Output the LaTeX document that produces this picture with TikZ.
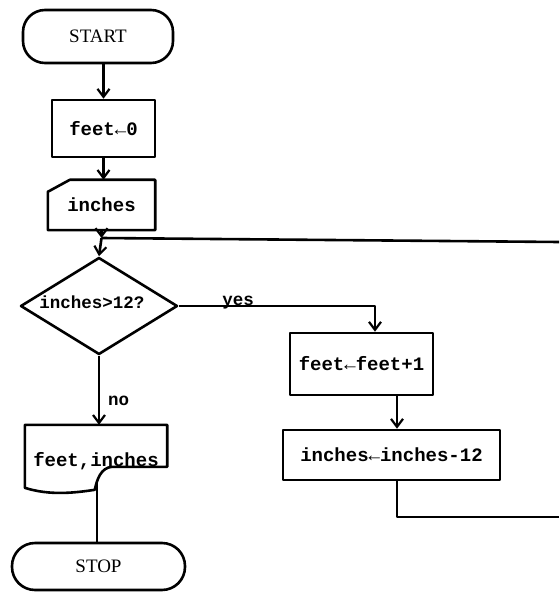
\documentclass[tikz,border=0pt]{standalone}
\usepackage{fontspec}
\setmainfont{Liberation Serif}
\newfontfamily\flowmono{Liberation Mono}
\usetikzlibrary{arrows.meta,shapes.geometric,calc}
\begin{document}
\begin{tikzpicture}[x=1pt,y=-1pt,
 ln/.style={line width=2.6pt,line join=round},
 arr/.style={ln,-{Straight Barb[length=8pt,width=12pt,line width=2.2pt]}},
 term/.style={ln,draw,rounded corners=22pt,font=\fontsize{19}{22}\selectfont,inner sep=0pt},
 proc/.style={ln,draw,font=\flowmono\bfseries\fontsize{19}{22}\selectfont,inner sep=0pt},
 txt/.style={font=\flowmono\bfseries\fontsize{19}{22}\selectfont,inner sep=0pt},
 lbl/.style={font=\flowmono\bfseries\fontsize{17.5}{21}\selectfont,inner sep=0pt}]
\useasboundingbox (0,0) rectangle (559,601);
\fill[white] (0,0) rectangle (559,601);

\node[term,minimum width=150pt,minimum height=53pt] (start) at (98,36.5) {START};
\node[proc,minimum width=103pt,minimum height=57pt] (f0) at (103.5,128.5) {feet←0};
\node[txt,minimum width=107pt,minimum height=50pt] (in) at (101.5,205) {inches};
\draw[ln] (in.south east) -- (in.north east) -- ([xshift=22pt]in.north west) -- ([yshift=-12pt]in.north west) -- (in.south west) -- cycle;

\coordinate (join) at (101.5,238);
\node[diamond,ln,draw,aspect=1.6,minimum width=157pt,minimum height=97pt,inner sep=0pt] (dia) at (99,306) {};
\node[lbl] (diat) at (92,302) {inches>12?};

\node[proc,minimum width=143pt,minimum height=62pt] (f1) at (361.5,364) {feet←feet+1};
\node[proc,minimum width=217pt,minimum height=50pt] (i12) at (391.5,455) {inches←inches-12};

\node[txt,minimum width=142pt,minimum height=72pt,text depth=0pt] (out) at (96,461) {\raisebox{3pt}{feet,inches}};
\draw[ln] (out.north west) -- (out.north east) -- ($(out.north east)+(0,42)$) -- ($(out.north west)+(87,42)$) .. controls +(-11,1) and +(2,-10) .. ($(out.north west)+(70,65)$) .. controls +(-20,3) and +(25,8) .. ($(out.north west)+(0,63)$) -- cycle;

\node[term,minimum width=173pt,minimum height=47pt,rounded corners=23pt] (stop) at (98.5,566.5) {STOP};
\coordinate (outb) at (97,482);

\coordinate (edgeT) at (559,242);
\coordinate (edgeB) at (559,517);

\draw[arr] (f0.north |- start.south) -- (f0.north);
\draw[arr] (f0.south) -- (f0.south |- in.north);
\draw[arr] (in.south) -- (join);
\draw[ln] (edgeT) -- (join);
\draw[arr] (join) -- (dia.north);
\draw[arr] (dia.east) -| ([xshift=13.5pt]f1.north);
\node[lbl,anchor=base] (yes) at (238,305) {yes};
\draw[arr] (dia.south) -- (dia.south |- out.north);
\node[lbl,anchor=base west] (no) at (108,405) {no};
\draw[arr] ([xshift=5.5pt]i12.north |- f1.south) -- ([xshift=5.5pt]i12.north);
\draw[ln] ([xshift=5.5pt]i12.south) |- (edgeB);
\draw[ln] (outb) -- (outb |- stop.north);
\end{tikzpicture}
\end{document}
